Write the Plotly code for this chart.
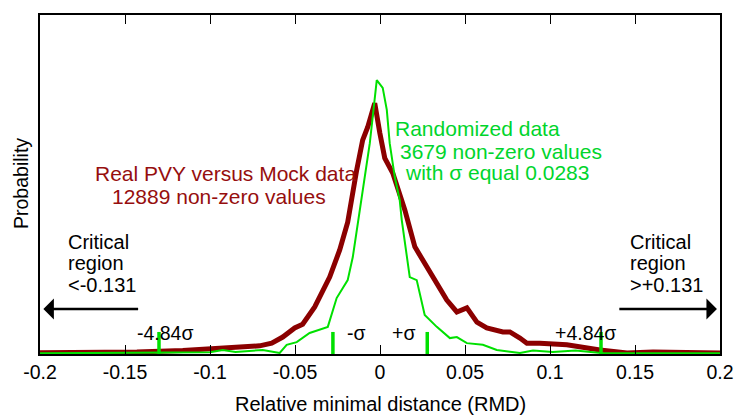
import plotly.graph_objects as go

# ---- data ----
rmd_real = [-0.2, -0.175, -0.143, -0.116, -0.0985, -0.0884, -0.0708, -0.0637, -0.0572, -0.0502,
            -0.0455, -0.0384, -0.0296, -0.0237, -0.019, -0.0137, -0.0102, -0.0072, -0.0031, -0.0001,
            0.0028, 0.0075, 0.0104, 0.0146, 0.0205, 0.0275, 0.0334, 0.0393, 0.0452, 0.0511,
            0.057, 0.0628, 0.0723, 0.0764, 0.0823, 0.0864, 0.094, 0.1099, 0.1294, 0.1453, 0.1606, 0.2]
prob_real = [0.004, 0.004, 0.006, 0.010, 0.015, 0.018, 0.024, 0.032, 0.050, 0.077,
             0.088, 0.139, 0.227, 0.307, 0.389, 0.543, 0.631, 0.670, 0.740, 0.652,
             0.578, 0.534, 0.493, 0.425, 0.316, 0.257, 0.209, 0.159, 0.124, 0.136,
             0.094, 0.077, 0.065, 0.065, 0.047, 0.032, 0.032, 0.027, 0.012, 0.003, 0.006, 0.003]

rmd_rand = [-0.2, -0.16, -0.13, -0.1, -0.0925, -0.085, -0.069, -0.059, -0.0549, -0.049,
            -0.0414, -0.0307, -0.0255, -0.019, -0.016, -0.0108, -0.006, -0.0019, 0.0016, 0.004,
            0.0057, 0.0087, 0.0116, 0.0128, 0.0175, 0.0216, 0.0263, 0.0334, 0.0411, 0.0452,
            0.0511, 0.0605, 0.0687, 0.0823, 0.09, 0.1017, 0.115, 0.13, 0.16, 0.2]
prob_rand = [0.002, 0.003, 0.003, 0.005, 0.012, 0.006, 0.012, 0.003, 0.027, 0.035,
             0.062, 0.080, 0.165, 0.218, 0.286, 0.454, 0.622, 0.808, 0.785, 0.720,
             0.622, 0.522, 0.454, 0.395, 0.227, 0.218, 0.115, 0.080, 0.047, 0.050,
             0.032, 0.027, 0.012, 0.003, 0.010, 0.006, 0.010, 0.003, 0.002, 0.002]

sigma_marker_x = [-0.130, -0.0277, 0.0278, 0.130]
sigma_marker_h = 0.065
sigma_labels = ["-4.84σ", "-σ", "+σ", "+4.84σ"]
sigma_label_x = [-0.1267, -0.0139, 0.0136, 0.121]

tick_vals = [-0.2, -0.15, -0.1, -0.05, 0, 0.05, 0.1, 0.15, 0.2]
tick_text = ["-0.2", "-0.15", "-0.1", "-0.05", "0", "0.05", "0.1", "0.15", "0.2"]

FONT = "Liberation Sans, Arial, Helvetica, sans-serif"
FS = 19.5
FS_BIG = 21
RED = "#8b0000"
RED_TXT = "#960e0e"
GREEN = "#00e000"
GREEN_TXT = "#00d52c"

fig = go.Figure()

fig.add_trace(go.Scatter(x=rmd_real, y=prob_real, mode="lines",
                         line=dict(color=RED, width=5), showlegend=False))
fig.add_trace(go.Scatter(x=rmd_rand, y=prob_rand, mode="lines",
                         line=dict(color=GREEN, width=2), showlegend=False))

mx, my = [], []
for v in sigma_marker_x:
    mx += [v, v, None]
    my += [0, sigma_marker_h, None]
fig.add_trace(go.Scatter(x=mx, y=my, mode="lines",
                         line=dict(color=GREEN, width=3.5), showlegend=False))

ann = []
def txt(x, y, t, color="black", xanchor="left", xref="x", yref="y", angle=0, size=FS):
    ann.append(dict(x=x, y=y, xref=xref, yref=yref, text=t, showarrow=False,
                    xanchor=xanchor, yanchor="middle", textangle=angle,
                    font=dict(family=FONT, size=size, color=color)))

txt(-0.1691, 0.531, "Real PVY versus Mock data", RED_TXT, size=FS_BIG)
txt(-0.1591, 0.466, "12889 non-zero values", RED_TXT, size=FS_BIG)
txt(0.0077, 0.664, "Randomized data", GREEN_TXT, size=FS_BIG)
txt(0.0106, 0.596, "3679 non-zero values", GREEN_TXT, size=FS_BIG)
txt(0.0136, 0.534, "with σ equal 0.0283", GREEN_TXT, size=FS_BIG)

for i, line in enumerate(["Critical", "region", "<-0.131"]):
    txt(-0.1846, 0.331 - i * 0.064, line, size=20)
for i, line in enumerate(["Critical", "region", ">+0.131"]):
    txt(0.146, 0.331 - i * 0.064, line, size=20)

for lx, lt in zip(sigma_label_x, sigma_labels):
    txt(lx, 0.063, lt, xanchor="center", size=FS)

# axis titles
txt(0.501, -0.1475, "Relative minimal distance (RMD)", xanchor="center", xref="paper", yref="paper", size=20)
txt(-0.0272, 0.503, "Probability", xanchor="center", xref="paper", yref="paper", angle=-90, size=FS)

# arrows
ann.append(dict(x=-0.198, y=0.133, ax=-0.1414, ay=0.133, xref="x", yref="y", axref="x", ayref="y",
                showarrow=True, arrowhead=1, arrowsize=1.4, arrowwidth=2.5, arrowcolor="black", text=""))
ann.append(dict(x=0.1982, y=0.133, ax=0.1399, ay=0.133, xref="x", yref="y", axref="x", ayref="y",
                showarrow=True, arrowhead=1, arrowsize=1.4, arrowwidth=2.5, arrowcolor="black", text=""))

fig.update_layout(
    width=739, height=416,
    margin=dict(l=40, r=19, t=15, b=62, autoexpand=False),
    paper_bgcolor="white", plot_bgcolor="white",
    annotations=ann,
    font=dict(family=FONT, size=FS, color="black"),
    xaxis=dict(range=[-0.2, 0.2], tickvals=tick_vals, ticktext=tick_text,
               ticks="inside", ticklen=9, tickwidth=1, tickcolor="black",
               showline=True, linecolor="black", linewidth=1.5, mirror="ticks",
               showgrid=False, zeroline=False, automargin=False,
               tickfont=dict(family=FONT, size=FS, color="black")),
    yaxis=dict(range=[0, 1], showticklabels=False, ticks="",
               showline=True, linecolor="black", linewidth=1.5, mirror=True,
               showgrid=False, zeroline=False, automargin=False),
)

fig.write_html("out.html",
               config={"displayModeBar": False},
               post_script="document.body.style.margin='0';document.body.style.padding='0';"
                           "document.body.style.overflow='hidden';")
